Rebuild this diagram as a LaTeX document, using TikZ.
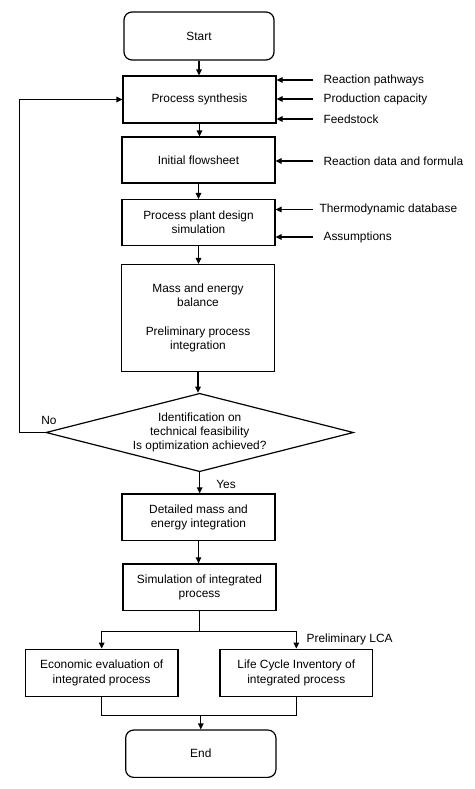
\documentclass[tikz,border=0pt]{standalone}
\usepackage{fontspec}
\setmainfont{Liberation Sans}
\usetikzlibrary{arrows.meta,shapes.geometric}
\begin{document}
\begin{tikzpicture}[x=1pt,y=-1pt,
  font=\fontsize{11.9}{14.3}\selectfont,
  line width=1.2pt,
  box/.style={draw,rectangle,align=center,inner sep=0pt},
  term/.style={draw,rectangle,rounded corners=8pt,align=center,inner sep=0pt},
  lab/.style={inner sep=0pt,anchor=west},
  arr/.style={-{Triangle[length=6pt,width=5.5pt]}}]
\useasboundingbox (0,0) rectangle (474,789);
\node[term,minimum width=150pt,minimum height=48pt] (start) at (199,36) {Start};
\node[box,minimum width=153pt,minimum height=47pt] (ps) at (199.5,99.5) {Process synthesis};
\node[box,minimum width=153pt,minimum height=46pt] (if) at (198.5,160) {Initial flowsheet};
\node[box,minimum width=153pt,minimum height=46pt] (ppd) at (198.5,222.5) {Process plant design\\simulation};
\node[box,minimum width=152.5pt,minimum height=107pt] (meb) at (198,318) {Mass and energy\\balance\\[14pt]Preliminary process\\integration};
\node[draw,diamond,aspect=3.92,inner sep=0pt,minimum width=307.6pt,minimum height=78.4pt,align=center] (dia) at (199.7,432.5) {Identification on\\technical feasibility\\Is optimization achieved?};
\node[box,minimum width=153pt,minimum height=46.7pt] (det) at (198.5,517.3) {Detailed mass and\\energy integration};
\node[box,minimum width=153pt,minimum height=46.7pt] (sim) at (199.5,587.3) {Simulation of integrated\\process};
\node[box,minimum width=152.7pt,minimum height=47.7pt] (eco) at (101.7,673) {Economic evaluation of\\integrated process};
\node[box,minimum width=152.7pt,minimum height=47.7pt] (lci) at (296.3,673) {Life Cycle Inventory of\\integrated process};
\node[term,minimum width=150.3pt,minimum height=47.3pt] (end) at (200.8,753.7) {End};
% side labels
\node[lab] (rp) at (323,80) {Reaction pathways};
\node[lab] (pc) at (323,99) {Production capacity};
\node[lab] (fs) at (323,119) {Feedstock};
\node[lab] (rd) at (323,161) {Reaction data and formula};
\node[lab] (td) at (319,209.5) {Thermodynamic database};
\node[lab] (as) at (323,237) {Assumptions};
\node[inner sep=0pt] (no) at (49,420.7) {No};
\node[inner sep=0pt] (yes) at (226,484) {Yes};
\node[lab] (lca) at (306,639) {Preliminary LCA};
% main flow
\draw[arr] (start.south) -- (start.south |- ps.north);
\draw[arr] (ps.south) -- (ps.south |- if.north);
\draw[arr] (if.south) -- (if.south |- ppd.north);
\draw[arr] (ppd.south) -- (ppd.south |- meb.north);
\draw[arr] (meb.south) -- (meb.south |- dia.north);
\draw[arr] (dia.south) -- (dia.south |- det.north);
\draw[arr] (det.south) -- (det.south |- sim.north);
% inputs
\draw[arr] ([xshift=-10pt]rp.west) -- (ps.east |- rp.west);
\draw[arr] ([xshift=-10pt]pc.west) -- (ps.east |- pc.west);
\draw[arr] ([xshift=-10pt]fs.west) -- (ps.east |- fs.west);
\draw[arr] ([xshift=-10pt]rd.west) -- (if.east |- rd.west);
\draw[arr] ([xshift=-6pt]td.west) -- (ppd.east |- td.west);
\draw[arr] ([xshift=-10pt]as.west) -- (ppd.east |- as.west);
% loop back
\draw[arr] (dia.west) -- ++(-26,0) |- (ps.west);
% branch
\draw (sim.south) -- ++(0,20) coordinate (br);
\draw[arr] (br) -| (eco.north);
\draw[arr] (br) -| (lci.north);
% merge
\path (eco.south) ++(0,18) coordinate (mg);
\draw (eco.south) -- (mg) -| (lci.south);
\draw[arr] (mg -| end.north) -- (end.north);
\end{tikzpicture}
\end{document}
